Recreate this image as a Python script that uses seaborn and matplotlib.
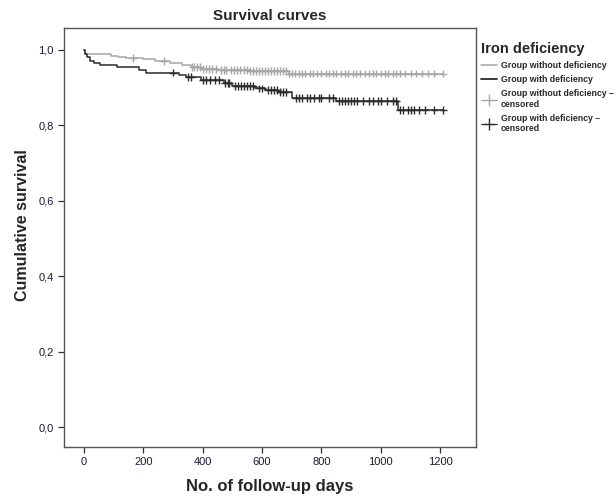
import numpy as np
import pandas as pd
import seaborn as sns
import matplotlib.pyplot as plt
from matplotlib.lines import Line2D

# Kaplan-Meier steps (day, survival after the event)
no_def_days = [0, 4, 90, 115, 140, 200, 240, 290, 330, 360, 395, 450, 560, 690, 1210]
no_def_surv = [1.0, 0.989, 0.985, 0.982, 0.979, 0.975, 0.970, 0.965, 0.960, 0.955, 0.950,
               0.946, 0.944, 0.937, 0.937]

def_days = [0, 3, 10, 20, 35, 55, 110, 185, 210, 320, 345, 395, 470, 500, 575, 610,
            655, 700, 850, 1058, 1210]
def_surv = [1.0, 0.99, 0.98, 0.97, 0.964, 0.959, 0.954, 0.946, 0.940, 0.933, 0.928,
            0.920, 0.912, 0.905, 0.898, 0.894, 0.889, 0.872, 0.865, 0.841, 0.841]

# censored cases
no_def_cens = [165, 268, 365, 372, 380, 390, 400, 410, 420, 432, 445, 460, 470, 480, 495,
               505, 515, 525, 540, 550, 560, 570, 580, 590, 600, 610, 620, 630, 640, 650,
               660, 670, 680, 690, 700, 712, 725, 735, 745, 760, 770, 785, 800, 815, 825,
               840, 850, 865, 880, 890, 905, 915, 930, 945, 960, 975, 985, 1000, 1015,
               1025, 1040, 1050, 1065, 1080, 1100, 1120, 1140, 1160, 1180, 1210]
def_cens = [300, 352, 362, 400, 412, 425, 440, 455, 475, 485, 490, 510, 520, 530, 540,
            550, 560, 570, 590, 600, 620, 630, 640, 650, 660, 670, 680, 715, 725, 735,
            750, 760, 775, 790, 800, 825, 840, 860, 870, 880, 890, 900, 910, 920, 940,
            960, 975, 990, 1000, 1020, 1040, 1050, 1065, 1075, 1090, 1100, 1110, 1130,
            1150, 1180, 1210]

groups = ['Group without deficiency', 'Group with deficiency']
colors = ['#a6a6a6', '#2b2b2b']


def surv_at(t, days, surv):
    idx = np.searchsorted(days, t, side='right') - 1
    return np.asarray(surv)[idx]


curves = pd.concat([
    pd.DataFrame({'day': no_def_days, 'surv': no_def_surv, 'group': groups[0]}),
    pd.DataFrame({'day': def_days, 'surv': def_surv, 'group': groups[1]}),
])
cens = pd.concat([
    pd.DataFrame({'day': no_def_cens, 'surv': surv_at(no_def_cens, no_def_days, no_def_surv),
                  'group': groups[0]}),
    pd.DataFrame({'day': def_cens, 'surv': surv_at(def_cens, def_days, def_surv),
                  'group': groups[1]}),
])

sns.set_style('white')
plt.rcParams['font.family'] = ['Liberation Sans', 'DejaVu Sans']

fig = plt.figure(figsize=(6.16, 4.97), dpi=100)
ax = fig.add_axes([0.104, 0.1006, 0.669, 0.843])

pal = dict(zip(groups, colors))
sns.lineplot(data=curves, x='day', y='surv', hue='group', palette=pal,
             drawstyle='steps-post', linewidth=1.1, legend=False, ax=ax, estimator=None)
sns.scatterplot(data=cens, x='day', y='surv', hue='group', palette=pal, marker='+',
                s=30, linewidth=1.0, legend=False, ax=ax, zorder=3)

ax.set_xlim(-67, 1321)
ax.set_ylim(-0.053, 1.058)
ax.set_xticks([0, 200, 400, 600, 800, 1000, 1200])
ax.set_yticks([0.0, 0.2, 0.4, 0.6, 0.8, 1.0])
ax.set_yticklabels([f'{v:.1f}'.replace('.', ',') for v in ax.get_yticks()])
ax.tick_params(axis='both', direction='out', length=4, width=0.9, labelsize=8,
               colors='#333333', labelcolor='#1a1a33', bottom=True, left=True)
for sp in ax.spines.values():
    sp.set_color('#555555')
    sp.set_linewidth(1.0)

ax.set_xlabel('No. of follow-up days', fontsize=12, fontweight='bold', labelpad=8)
ax.set_ylabel('Cumulative survival', fontsize=11.5, fontweight='bold')
ax.yaxis.set_label_coords(-0.082, 0.53)
ax.set_title('Survival curves', fontsize=11, fontweight='bold', pad=6)

handles = [
    Line2D([], [], color=colors[0], lw=1.1),
    Line2D([], [], color=colors[1], lw=1.3),
    Line2D([], [], color=colors[0], lw=0.8, marker='+', markersize=8),
    Line2D([], [], color=colors[1], lw=0.8, marker='+', markersize=8),
]
labels = ['Group without deficiency', 'Group with deficiency',
          'Group without deficiency –\ncensored', 'Group with deficiency –\ncensored']
leg = ax.legend(handles, labels, title='Iron deficiency', loc='upper left',
                bbox_to_anchor=(1.0, 0.98), frameon=False,
                handlelength=1.8, handletextpad=0.4, labelspacing=0.6,
                borderaxespad=0.2, prop={'weight': 'bold', 'size': 6.3})
leg.get_title().set_fontweight('bold')
leg.get_title().set_fontsize(10.5)
leg._legend_box.align = 'left'

fig.savefig('out.png', dpi=100)
